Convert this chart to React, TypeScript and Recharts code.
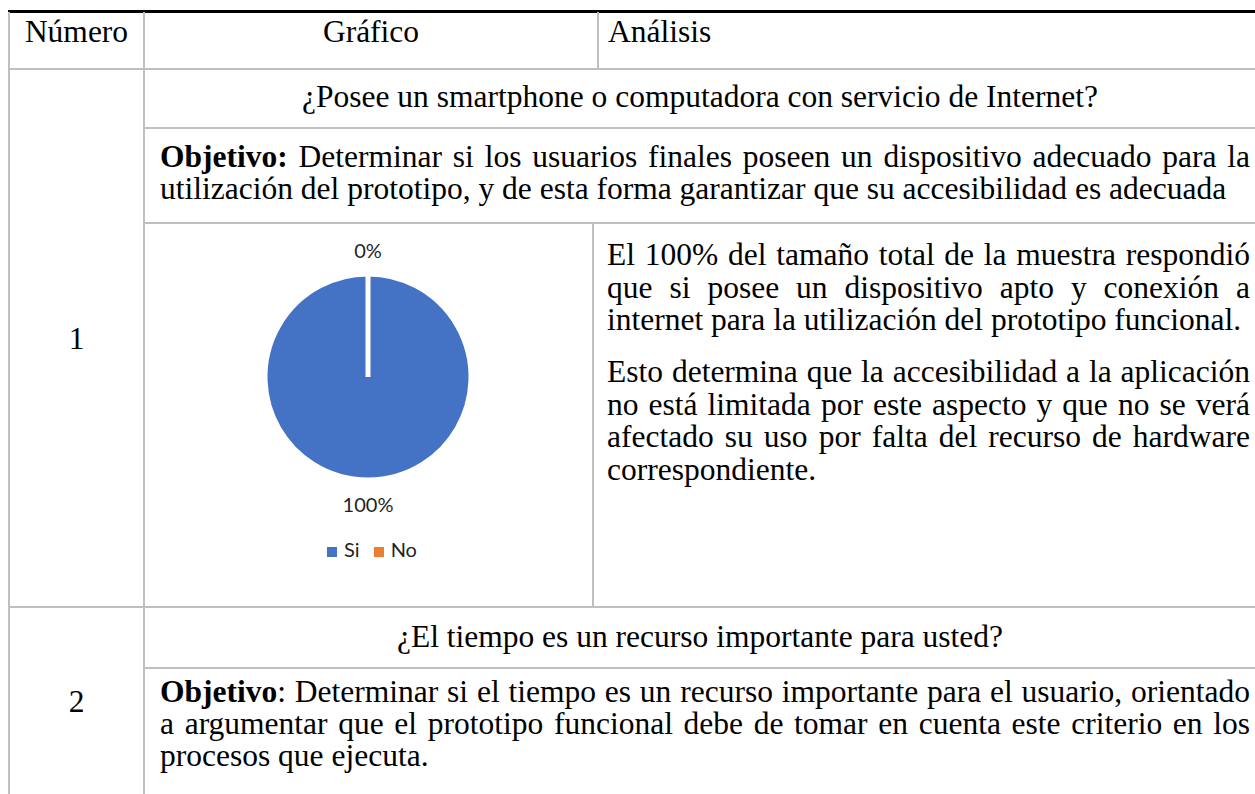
import React from "react";
import { PieChart, Pie, Cell, Legend } from "recharts";

// table text
const headers = ["Número", "Gráfico", "Análisis"];
const rowNumbers = ["1", "2"];
const question1 = "¿Posee un smartphone o computadora con servicio de Internet?";
const question2 = "¿El tiempo es un recurso importante para usted?";
const objective1Label = "Objetivo:";
const objective1Lines = [
  " Determinar si los usuarios finales poseen un dispositivo adecuado para la",
  "utilización del prototipo, y de esta forma garantizar que su accesibilidad es adecuada",
];
const objective2Label = "Objetivo";
const objective2Lines = [
  ": Determinar si el tiempo es un recurso importante para el usuario, orientado",
  "a argumentar que el prototipo funcional debe de tomar en cuenta este criterio en los",
  "procesos que ejecuta.",
];
const analysisPara1 = [
  "El 100% del tamaño total de la muestra respondió",
  "que si posee un dispositivo apto y conexión a",
  "internet para la utilización del prototipo funcional.",
];
const analysisPara2 = [
  "Esto determina que la accesibilidad a la aplicación",
  "no está limitada por este aspecto y que no se verá",
  "afectado su uso por falta del recurso de hardware",
  "correspondiente.",
];

// chart data
const categories = ["Si", "No"];
const responses = [100, 0];

const SLICE_COLORS = ["#4472C4", "#ED7D31"];
const RULE = "#bfbfbf";
const SERIF = "'Liberation Serif', 'Times New Roman', serif";
const SANS = "Lato, 'Open Sans', sans-serif";
const FS = 31.5;
const LH = 32;

const pieData = categories.map((name, i) => ({ name, value: responses[i] }));

function Line({
  y,
  left,
  width,
  justify,
  align,
  children,
}: {
  y: number;
  left: number;
  width: number;
  justify?: boolean;
  align?: "left" | "center";
  children: React.ReactNode;
}) {
  return (
    <div
      style={{
        position: "absolute",
        top: y - 17,
        left,
        width,
        height: LH,
        lineHeight: `${LH}px`,
        fontFamily: SERIF,
        fontSize: FS,
        color: "#000",
        whiteSpace: justify ? "normal" : "nowrap",
        textAlign: justify ? "justify" : align || "left",
        textAlignLast: justify ? "justify" : align || "left",
      } as React.CSSProperties}
    >
      {children}
    </div>
  );
}

function HRule({ y, x1, x2 = 1255 }: { y: number; x1: number; x2?: number }) {
  return (
    <div
      style={{ position: "absolute", top: y, left: x1, width: x2 - x1, height: 2, background: RULE }}
    />
  );
}

function VRule({ x, y1, y2 }: { x: number; y1: number; y2: number }) {
  return (
    <div
      style={{ position: "absolute", top: y1, left: x, width: 2, height: y2 - y1, background: RULE }}
    />
  );
}

const RAD = Math.PI / 180;

function renderLabel(props: any) {
  const { cx, cy, midAngle, outerRadius, percent } = props;
  const r = outerRadius + 24;
  const x = cx + r * Math.cos(-midAngle * RAD);
  const y = cy + r * Math.sin(-midAngle * RAD);
  return (
    <text
      x={x}
      y={y}
      textAnchor="middle"
      dominantBaseline="central"
      fontFamily={SANS}
      fontSize={20}
      fill="#1f1f1f"
    >
      {`${Math.round(percent * 100)}%`}
    </text>
  );
}

function SurveyPie() {
  return (
    <PieChart width={446} height={380} margin={{ top: 0, right: 0, bottom: 0, left: 0 }}>
      <Pie
        data={pieData}
        dataKey="value"
        nameKey="name"
        cx={222}
        cy={153}
        outerRadius={103}
        startAngle={90}
        endAngle={-270}
        stroke="#ffffff"
        strokeWidth={5}
        label={renderLabel}
        labelLine={false}
        isAnimationActive={false}
      >
        {pieData.map((d, i) => (
          <Cell key={d.name} fill={SLICE_COLORS[i]} />
        ))}
      </Pie>
      <Legend
        verticalAlign="bottom"
        align="center"
        iconType="square"
        iconSize={10}
        itemSorter={(item: any) => categories.indexOf(item.value)}
        wrapperStyle={{
          top: 313,
          paddingLeft: 20,
          boxSizing: "border-box",
          fontFamily: SANS,
          fontSize: 20,
        }}
        formatter={(value: string) => (
          <span
            style={{
              color: "#1f1f1f",
              fontSize: 20,
              fontFamily: SANS,
              marginLeft: 3,
              marginRight: 4,
            }}
          >
            {value}
          </span>
        )}
      />
    </PieChart>
  );
}

export default function App() {
  return (
    <div
      style={{
        position: "absolute",
        left: 0,
        top: 0,
        width: 1255,
        height: 794,
        overflow: "hidden",
        background: "#fff",
      }}
    >
      {/* table rules */}
      <div style={{ position: "absolute", top: 10, left: 8, width: 1247, height: 3, background: "#000" }} />
      <VRule x={8} y1={12} y2={794} />
      <VRule x={143} y1={12} y2={794} />
      <VRule x={597} y1={12} y2={69} />
      <VRule x={592} y1={223} y2={607} />
      <HRule y={68} x1={8} />
      <HRule y={127} x1={144} />
      <HRule y={222} x1={144} />
      <HRule y={606} x1={8} />
      <HRule y={667} x1={144} />

      {/* header */}
      <Line y={33} left={10} width={133} align="center">{headers[0]}</Line>
      <Line y={33} left={145} width={452} align="center">{headers[1]}</Line>
      <Line y={33} left={608} width={300}>{headers[2]}</Line>

      {/* row 1 */}
      <Line y={340} left={10} width={133} align="center">{rowNumbers[0]}</Line>
      <Line y={98} left={145} width={1110} align="center">{question1}</Line>
      <Line y={158} left={160} width={1090} justify>
        <b>{objective1Label}</b>
        {objective1Lines[0]}
      </Line>
      <Line y={190} left={160} width={1090}>{objective1Lines[1]}</Line>

      <div style={{ position: "absolute", left: 146, top: 224 }}>
        <SurveyPie />
      </div>

      {analysisPara1.map((t, i) => (
        <Line key={t} y={256 + i * 32.5} left={607} width={643} justify={i < analysisPara1.length - 1}>
          {t}
        </Line>
      ))}
      {analysisPara2.map((t, i) => (
        <Line key={t} y={373 + i * 32.5} left={607} width={643} justify={i < analysisPara2.length - 1}>
          {t}
        </Line>
      ))}

      {/* row 2 */}
      <Line y={703} left={10} width={133} align="center">{rowNumbers[1]}</Line>
      <Line y={638} left={145} width={1110} align="center">{question2}</Line>
      {objective2Lines.map((t, i) => (
        <Line key={t} y={693 + i * 32} left={160} width={1090} justify={i < objective2Lines.length - 1}>
          {i === 0 && <b>{objective2Label}</b>}
          {t}
        </Line>
      ))}
    </div>
  );
}
